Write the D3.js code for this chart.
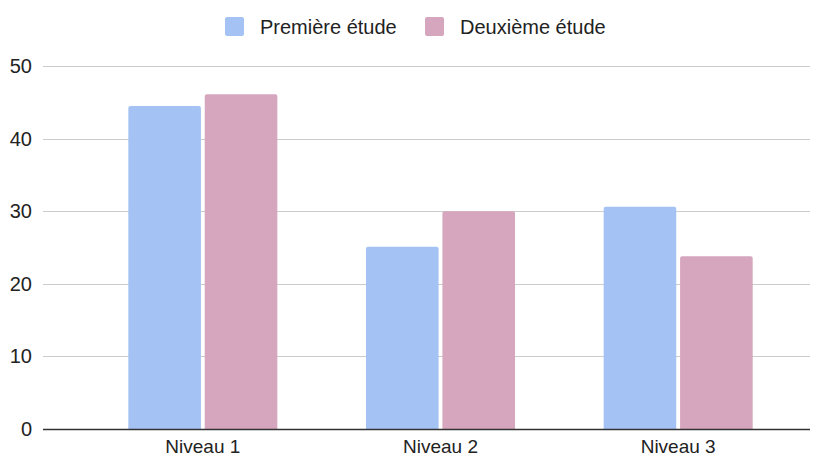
<!DOCTYPE html>
<html>
<head>
<meta charset="utf-8">
<script src="https://cdn.jsdelivr.net/npm/d3@7"></script>
<style>
  body { margin: 0; background: #fff; }
  text { font-family: "Liberation Sans", Arial, sans-serif; fill: #222; }
</style>
</head>
<body>
<div id="chart"></div>
<script>
// Data
var categories = ["Niveau 1", "Niveau 2", "Niveau 3"];
var seriesNames = ["Première étude", "Deuxième étude"];
var premiere = [44.5, 25.1, 30.6];
var deuxieme = [46.1, 30.0, 23.8];
var yTicks = [0, 10, 20, 30, 40, 50];

var colors = ["#a4c2f4", "#d5a6bd"];

var W = 825, H = 456;
var plotLeft = 43, plotRight = 810, plotTop = 66, plotBottom = 429;

var svg = d3.select("#chart").append("svg")
  .attr("width", W)
  .attr("height", H);

// Scales
var y = d3.scaleLinear().domain([0, 50]).range([plotBottom, plotTop]);

var x = d3.scaleBand()
  .domain(categories)
  .range([84, 797])
  .paddingInner(0.373)
  .paddingOuter(0.1865);

var xSub = d3.scaleBand()
  .domain([0, 1])
  .range([0, x.bandwidth()])
  .paddingInner(0.05);

// Gridlines
svg.append("g")
  .selectAll("line")
  .data(yTicks.filter(function (d) { return d > 0; }))
  .enter()
  .append("line")
  .attr("x1", plotLeft)
  .attr("x2", plotRight)
  .attr("y1", function (d) { return Math.round(y(d)) + 0.5; })
  .attr("y2", function (d) { return Math.round(y(d)) + 0.5; })
  .attr("stroke", "#cccccc")
  .attr("stroke-width", 1);

// Y tick labels
svg.append("g")
  .selectAll("text")
  .data(yTicks)
  .enter()
  .append("text")
  .attr("x", 32)
  .attr("y", function (d) { return y(d); })
  .attr("dy", "0.35em")
  .attr("text-anchor", "end")
  .style("font-size", "20px")
  .text(function (d) { return d; });

// Bars
var rows = categories.map(function (c, i) {
  return { key: c, values: [premiere[i], deuxieme[i]] };
});

function topRoundedRect(x0, y0, w, h, r) {
  return "M" + x0 + "," + (y0 + h) +
    "V" + (y0 + r) +
    "Q" + x0 + "," + y0 + " " + (x0 + r) + "," + y0 +
    "H" + (x0 + w - r) +
    "Q" + (x0 + w) + "," + y0 + " " + (x0 + w) + "," + (y0 + r) +
    "V" + (y0 + h) + "Z";
}

var groups = svg.append("g")
  .selectAll("g")
  .data(rows)
  .enter()
  .append("g")
  .attr("transform", function (d) { return "translate(" + x(d.key) + ",0)"; });

groups.selectAll("path")
  .data(function (d) { return d.values.map(function (v, i) { return { i: i, v: v }; }); })
  .enter()
  .append("path")
  .attr("fill", function (d) { return colors[d.i]; })
  .attr("d", function (d) {
    return topRoundedRect(xSub(d.i), y(d.v), xSub.bandwidth(), plotBottom - y(d.v), 2);
  });

// Baseline
svg.append("line")
  .attr("x1", plotLeft)
  .attr("x2", plotRight)
  .attr("y1", plotBottom + 0.5)
  .attr("y2", plotBottom + 0.5)
  .attr("stroke", "#333333")
  .attr("stroke-width", 1.5);

// X labels
svg.append("g")
  .selectAll("text")
  .data(categories)
  .enter()
  .append("text")
  .attr("x", function (d) { return x(d) + x.bandwidth() / 2; })
  .attr("y", 446)
  .attr("dy", "0.35em")
  .attr("text-anchor", "middle")
  .style("font-size", "19px")
  .text(function (d) { return d; });

// Legend
var legendX = [225, 425];
var legend = svg.append("g")
  .selectAll("g")
  .data(seriesNames)
  .enter()
  .append("g")
  .attr("transform", function (d, i) { return "translate(" + legendX[i] + ",17)"; });

legend.append("rect")
  .attr("width", 19)
  .attr("height", 19)
  .attr("rx", 2)
  .attr("fill", function (d, i) { return colors[i]; });

legend.append("text")
  .attr("x", 35)
  .attr("y", 10)
  .attr("dy", "0.35em")
  .style("font-size", "20px")
  .text(function (d) { return d; });
</script>
</body>
</html>
